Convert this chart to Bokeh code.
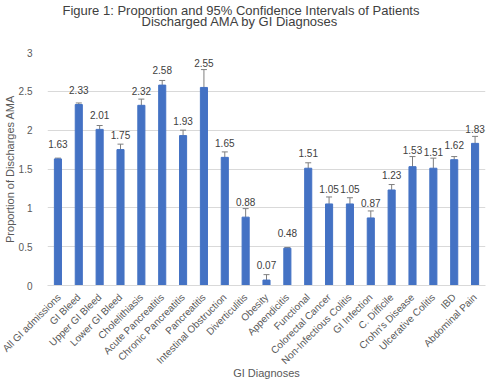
import numpy as np
from bokeh.plotting import figure
from bokeh.models import ColumnDataSource, FactorRange, Whisker, Title, TeeHead
from bokeh.core.properties import value
from bokeh.embed import file_html
from bokeh.resources import INLINE

categories = [
    "All GI admissions", "GI Bleed", "Upper GI Bleed", "Lower GI Bleed",
    "Cholelithiasis", "Acute Pancreatitis", "Chronic Pancreatitis", "Pancreatitis",
    "Intestinal Obstruction", "Diverticulitis", "Obesity", "Appendicitis",
    "Functional", "Colorectal Cancer", "Non-Infectious Colitis", "GI Infection",
    "C. Difficile", "Crohn's Disease", "Ulcerative Colitis", "IBD", "Abdominal Pain",
]
proportion = [1.63, 2.33, 2.01, 1.75, 2.32, 2.58, 1.93, 2.55, 1.65, 0.88, 0.07,
              0.48, 1.51, 1.05, 1.05, 0.87, 1.23, 1.53, 1.51, 1.62, 1.83]
ci_lower = [1.62, 2.31, 1.96, 1.68, 2.24, 2.52, 1.86, 2.27, 1.58, 0.78, 0.01,
            0.47, 1.45, 0.96, 0.97, 0.78, 1.16, 1.40, 1.38, 1.50, 1.75]
ci_upper = [1.64, 2.35, 2.06, 1.82, 2.40, 2.64, 2.00, 2.78, 1.72, 0.99, 0.14,
            0.49, 1.58, 1.14, 1.13, 0.96, 1.30, 1.66, 1.64, 1.66, 1.92]
y_ticks = [0, 0.5, 1, 1.5, 2, 2.5, 3]

FONT = "Liberation Sans"
BLUE = "#4472C4"
TEXT = "#595959"

vals = np.array(proportion)
up = np.array(ci_upper)
# value labels sit above the bar, or above the whisker when it reaches higher
label_y = np.maximum(vals + 0.19, up + 0.08)

src = ColumnDataSource(dict(
    cat=categories, val=proportion, lo=ci_lower, hi=ci_upper,
    ly=label_y.tolist(), txt=[f"{v:.2f}" for v in proportion],
))

p = figure(
    title=None,
    x_range=FactorRange(*categories, range_padding=0),
    y_range=(0, 3),
    width=488, height=382,
    min_border_left=45, min_border_right=3, min_border_top=52, min_border_bottom=94,
    output_backend="svg", toolbar_location=None,
    background_fill_color="white", border_fill_color="white",
)
p.outline_line_color = None


def heading(text, offset, standoff):
    p.add_layout(Title(text=text, align="left", offset=offset, standoff=standoff,
                       text_font=FONT, text_font_size="13px", text_font_style="normal",
                       text_color="#404040"), "above")


# blank spacer keeps a gap between the heading and the plot area
heading(" ", 0, 10)
heading("Discharged AMA by GI Diagnoses", 94, -6)
heading("Figure 1: Proportion and 95% Confidence Intervals of Patients", 15, -6)

p.vbar(x="cat", top="val", width=0.34, source=src, fill_color=BLUE, line_color=BLUE)

err = Whisker(
    base="cat", lower="lo", upper="hi", source=src,
    line_color="#7F7F7F", line_width=1,
    upper_head=TeeHead(size=6, line_color="#7F7F7F", line_width=1),
    lower_head=TeeHead(size=6, line_color="#7F7F7F", line_width=1),
)
p.add_layout(err)

p.text(x="cat", y="ly", text="txt", source=src, text_align="center",
       text_baseline="middle", text_font=value(FONT), text_font_size="10px",
       text_color="#404040")

# axes
p.yaxis.ticker = y_ticks
p.yaxis.axis_line_color = None
p.yaxis.major_tick_line_color = None
p.yaxis.minor_tick_line_color = None
p.yaxis.major_label_text_font = FONT
p.yaxis.major_label_text_font_size = "10px"
p.yaxis.major_label_text_color = TEXT
p.yaxis.major_label_standoff = 9
p.yaxis.axis_label = "Proportion of Discharges AMA"
p.yaxis.axis_label_text_font = FONT
p.yaxis.axis_label_text_font_size = "11px"
p.yaxis.axis_label_text_font_style = "normal"
p.yaxis.axis_label_text_color = TEXT
p.yaxis.axis_label_standoff = 0

p.xaxis.axis_line_color = "#D9D9D9"
p.xaxis.major_tick_line_color = None
p.xaxis.minor_tick_line_color = None
p.xaxis.major_label_orientation = np.pi / 4
p.xaxis.major_label_text_font = FONT
p.xaxis.major_label_text_font_size = "10px"
p.xaxis.major_label_text_color = TEXT
p.xaxis.major_label_standoff = 4
p.xaxis.axis_label = "GI Diagnoses"
p.xaxis.axis_label_text_font = FONT
p.xaxis.axis_label_text_font_size = "11px"
p.xaxis.axis_label_text_font_style = "normal"
p.xaxis.axis_label_text_color = TEXT
p.xaxis.axis_label_standoff = -6

p.xgrid.grid_line_color = None
p.ygrid.grid_line_color = "#D9D9D9"

open("out.html", "w").write(file_html(p, INLINE))
